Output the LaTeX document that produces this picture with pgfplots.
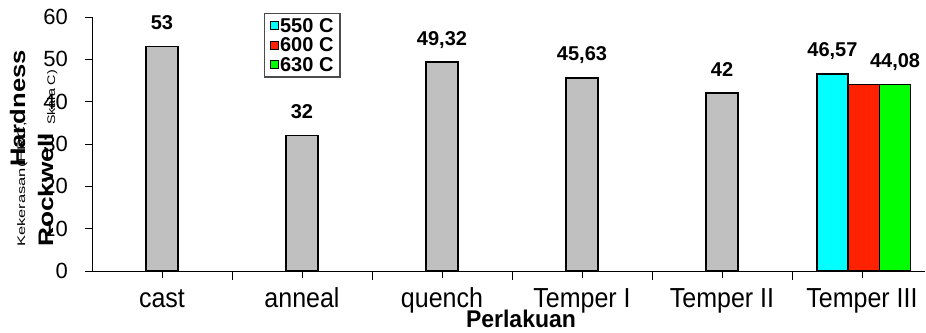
\documentclass[border=0pt]{standalone}
\usepackage{pgfplots}
\pgfplotsset{compat=1.18}
\usepackage{pgfplotstable}
\usepackage{fontspec}
\setmainfont{Liberation Sans}
\definecolor{barg}{RGB}{192,192,192}
\definecolor{cy}{RGB}{0,255,255}
\definecolor{rd}{RGB}{255,34,0}
\definecolor{gr}{RGB}{0,255,0}
\pgfplotstableread{
x y label
0 53 53
1 32 32
2 49.32 49,32
3 45.63 45,63
4 42 42
}\graytab
\pgfplotstableread{
x y label
4.789 46.57 46,57
}\cytab
\pgfplotstableread{
x y label
5.014 44.08 44,08
}\rdtab
\pgfplotstableread{
x y label
5.236 44.08 44,08
}\grtab
\begin{document}
\begin{tikzpicture}[x=1pt,y=1pt]
\path[use as bounding box] (0,0) rectangle (926,332);
\begin{axis}[
  at={(92pt,61pt)}, anchor=south west, scale only axis,
  width=833pt, height=254pt,
  xmin=-0.5, xmax=5.45, ymin=0, ymax=60,
  axis lines*=left, axis line style={line width=0.9pt,-},
  ytick={0,10,...,60},
  xtick={0,...,5},
  xticklabels={\scalebox{1}[1.1]{cast},\scalebox{1}[1.1]{anneal},\scalebox{1}[1.1]{quench},\scalebox{1}[1.1]{Temper I},\scalebox{1}[1.1]{Temper II},\scalebox{1}[1.1]{Temper III}},
  minor xtick={0.5,1.5,2.5,3.5,4.5},
  tick align=outside, major tick length=7pt, minor tick length=9pt,
  every tick/.style={black, line width=0.9pt},
  /pgf/number format/assume math mode=true,
  yticklabel style={font=\fontsize{22}{22}\selectfont, anchor=east, inner sep=0pt, xshift=-17pt},
  xticklabel style={font=\fontsize{25}{25}\selectfont, anchor=base, inner sep=0pt, yshift=-29pt},
  xlabel={\scalebox{1}[1.05]{Perlakuan}},
  xlabel style={at={(axis description cs:0.515,-0.2205)}, anchor=base, font=\bfseries\fontsize{23}{23}\selectfont, inner sep=0pt},
  legend style={at={(0.2065,1.0157)}, anchor=north west, draw=black!70, line width=1.2pt,
    font=\bfseries\fontsize{20}{20}\selectfont, inner xsep=5pt, inner ysep=3pt, row sep=1pt,
    nodes={inner sep=1.5pt}},
  legend cell align=left,
  legend image code/.code={\draw[#1, line width=1pt, draw=black] (0pt,-4pt) rectangle (8pt,4pt);},
  every node near coord/.append style={font=\bfseries\fontsize{20}{20}\selectfont, anchor=base, inner sep=0pt, yshift=17pt, black},
]
\addplot[ybar, bar width=32pt, bar shift=0pt, fill=barg, draw=black, line width=1.6pt,
  nodes near coords, point meta=explicit symbolic, forget plot]
  table[x=x, y=y, meta=label] {\graytab};
\addplot[ybar, bar width=31pt, bar shift=0pt, fill=cy, draw=black, line width=1.6pt,
  nodes near coords, point meta=explicit symbolic]
  table[x=x, y=y, meta=label] {\cytab};
\addplot[ybar, bar width=31pt, bar shift=0pt, fill=rd, draw=black, line width=1.6pt]
  table[x=x, y=y] {\rdtab};
\addplot[ybar, bar width=31pt, bar shift=0pt, fill=gr, draw=black, line width=1.6pt,
  nodes near coords, point meta=explicit symbolic]
  table[x=x, y=y, meta=label] {\grtab};
\legend{550 C, 600 C, 630 C}
\end{axis}
\node[rotate=90, anchor=base west, inner sep=0pt, font=\fontsize{11}{11}\selectfont] at (25,85) {\scalebox{1.5}[1]{Kekerasan(HRC,}};
\node[rotate=90, anchor=base west, inner sep=0pt, font=\fontsize{11}{11}\selectfont] at (55,207) {\scalebox{1.3}[1]{Skala C)}};
\node[rotate=90, anchor=base west, inner sep=0pt, font=\bfseries\fontsize{21}{21}\selectfont] at (25,165) {\scalebox{1.22}[1]{Hardness}};
\node[rotate=90, anchor=base west, inner sep=0pt, font=\bfseries\fontsize{21}{21}\selectfont] at (53,85) {\scalebox{1.25}[1]{Rockwell}};
\end{tikzpicture}
\end{document}
